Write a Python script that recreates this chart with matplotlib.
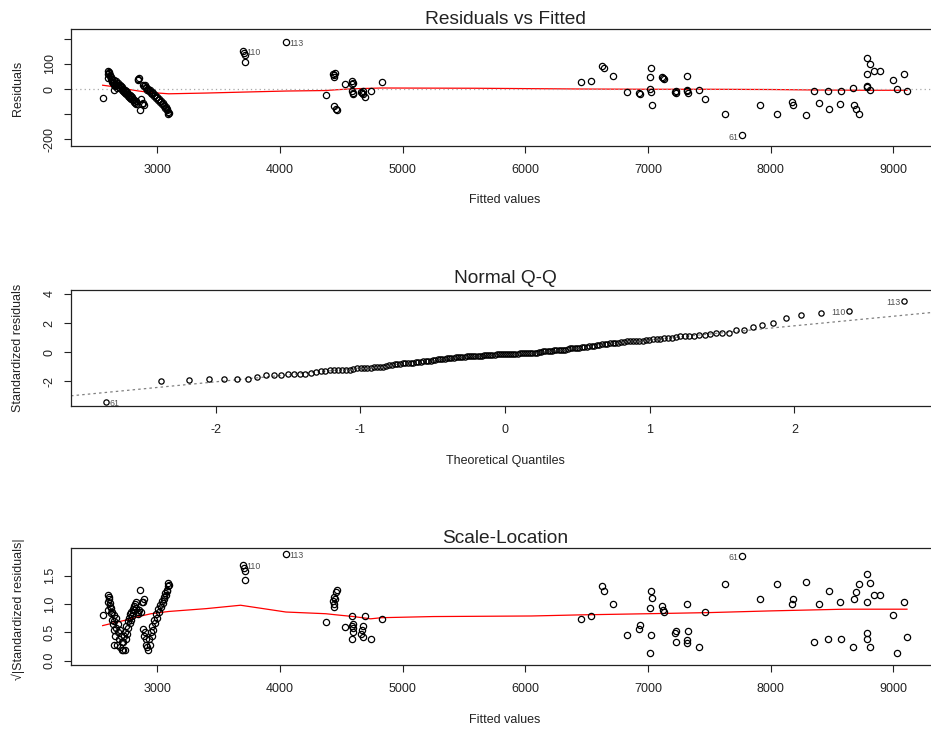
import statistics
import numpy as np
import matplotlib.pyplot as plt

plt.rcParams['font.family'] = ['Liberation Sans', 'DejaVu Sans']
plt.rcParams['axes.unicode_minus'] = False

fitted = [
    2556, 2596, 2598, 2602, 2606, 2610, 2612, 2618, 2622, 2626, 2630, 2634, 2640, 2645,
    2648, 2649, 2652, 2656, 2662, 2668, 2672, 2678,
    2684, 2690, 2695, 2700, 2705, 2710, 2715, 2720, 2725, 2730, 2735, 2740, 2745, 2750,
    2755, 2760, 2765, 2770, 2775, 2780, 2785, 2790, 2795, 2800, 2805, 2810, 2815, 2820,
    2825, 2830,
    2840, 2845, 2850, 2860, 2870, 2880, 2888, 2892,
    2886, 2895, 2900, 2906, 2912, 2918, 2925, 2932, 2940, 2948, 2955, 2962, 2970, 2978,
    2985, 2992, 3000, 3008, 3015, 3022, 3030, 3038, 3045, 3052, 3058, 3065, 3072, 3078,
    3084, 3088, 3092, 3096,
    3700, 3706, 3712, 3720, 4050,
    4375, 4430, 4438, 4445, 4452, 4440, 4455, 4465, 4528, 4585, 4592, 4600, 4588, 4595,
    4598, 4660, 4668, 4675, 4680, 4690, 4740, 4830,
    6456, 6538, 6627, 6638, 6717, 6829, 6924, 6935, 7020, 7019, 7025, 7028, 7036, 7114,
    7122, 7128, 7224, 7232, 7230, 7319, 7319, 7327, 7322, 7417, 7461,
    7630, 7763, 7913, 8054, 8172, 8185, 8286, 8354, 8395, 8466, 8476, 8566, 8574, 8675,
    8683, 8697, 8716, 8784, 8811, 8784, 8844, 8893, 8784, 8789, 8806, 8997, 9030, 9089,
    9111,
]
resid = [
    -34, 42, 58, 72, 64, 68, 50, 56, 38, 46, 28, 40, 22, 34,
    16, -4, 26, 10, 30, 18, 4, 14,
    22, 8, 16, 3, 10, -2, 6, -6, 2, -10, -2, -14, -8, -20,
    -12, -26, -18, -30, -24, -36, -28, -40, -33, -44, -38, -50, -42, -54,
    -47, -58,
    40, 36, 42, -84, -40, -58, -57, -64,
    17, 10, 14, 4, 8, -3, 2, -8, -4, -14, -10, -20, -16, -28,
    -24, -36, -30, -44, -40, -52, -48, -60, -56, -68, -64, -76, -72, -84,
    -80, -92, -100, -96,
    152, 144, 135, 108, 188,
    -25, 60, 54, 48, 64, -68, -78, -84, 19, 33, 20, 22, -8, -18,
    -14, -12, -16, -9, -20, -33, -8, 29,
    29, 33, 93, 82, 53, -11, -17, -21, -1, 46, 82, -11, -65, 49,
    42, 40, -13, -15, -6, 53, -7, -15, -5, -3, -40,
    -98, -183, -64, -98, -53, -64, -103, -6, -54, -8, -80, -58, -8, 3,
    -64, -78, -98, 124, 100, 58, 72, 72, 13, 8, -3, 34, -1, 58,
    -9,
]
sigma = 53.3
label_names = ['113', '61', '110']  # largest |standardized residual| first

# red smoother lines
smooth_x = [2556, 2650, 2750, 2850, 2950, 3095, 3400, 3720, 4050, 4375, 4460, 4600,
            4830, 5600, 6456, 7000, 7500, 8000, 8400, 8800, 9111]
smooth_y = [15, 9, 0, -8, -14, -19, -16, -12, -8, -6, -3, 1, 4, 3, 0, -1, -1, -2, -4, -5, -5]
sl_smooth_x = [2556, 2650, 2750, 2850, 2950, 3095, 3400, 3680, 4050, 4375, 4460, 4600,
               4740, 4830, 5250, 6050, 6456, 7000, 7500, 8000, 8600, 9111]
sl_smooth_y = [0.62, 0.67, 0.72, 0.78, 0.83, 0.87, 0.92, 0.98, 0.86, 0.83, 0.81, 0.78,
               0.74, 0.76, 0.78, 0.79, 0.81, 0.83, 0.85, 0.88, 0.91, 0.91]

fitted = np.array(fitted, float)
resid = np.array(resid, float)
std_res = resid / sigma
n = len(std_res)
top3 = np.argsort(-np.abs(std_res))[:3]

# normal quantiles for the Q-Q panel
order = np.argsort(std_res)
theo = np.empty(n)
nd = statistics.NormalDist()
theo[order] = [nd.inv_cdf((i + 0.5) / n) for i in range(n)]
yq = np.quantile(std_res, [0.25, 0.75])
xq = np.array([nd.inv_cdf(0.25), nd.inv_cdf(0.75)])
slope = (yq[1] - yq[0]) / (xq[1] - xq[0])
icpt = yq[0] - slope * xq[0]

W, H = 931, 729
fig = plt.figure(figsize=(W / 100, H / 100), dpi=100)


def box(top, bottom, left=71, right=939):
    return fig.add_axes([left / W, 1 - bottom / H, (right - left) / W, (bottom - top) / H])


def style(ax):
    for s in ax.spines.values():
        s.set_linewidth(0.9)
        s.set_color('#222222')
    ax.tick_params(direction='out', length=5, width=0.8, labelsize=9, pad=8,
                   colors='#222222')
    ax.tick_params(axis='y', labelrotation=90, pad=6)
    for lab in ax.get_yticklabels():
        lab.set_va('center')


def ftext(x, y, s, **kw):
    fig.text(x / W, 1 - y / H, s, color='#222222', **kw)


pt = dict(ls='none', marker='o', mfc='none', mec='black', mew=0.9)
lab_kw = dict(fontsize=6.3, color='#505050', va='center')

# --- Residuals vs Fitted
ax1 = box(29.3, 145.7)
ax1.plot(smooth_x, smooth_y, color='red', lw=0.9)
ax1.axhline(0, color='#a8a8a8', ls=(0, (1, 2.5)), lw=0.9)
ax1.plot(fitted, resid, ms=4.5, **pt)
ax1.set_xlim(2298, 9372)
ax1.set_ylim(-225, 237)
ax1.set_xticks([3000, 4000, 5000, 6000, 7000, 8000, 9000])
ax1.set_yticks([-200, -100, 0, 100, 200])
ax1.set_yticklabels(['-200', '', '0', '100', ''])
style(ax1)
for k, i in enumerate(top3):
    right = fitted[i] < fitted.mean()
    ax1.annotate(label_names[k], (fitted[i], resid[i]), xytext=(2.5 if right else -2.5, -1 if right else -2),
                 textcoords='offset points', ha='left' if right else 'right', **lab_kw)
ftext(505, 24, 'Residuals vs Fitted', fontsize=13.8, ha='center', va='baseline')
ftext(505, 200, 'Fitted values', fontsize=9, ha='center', va='center')
ftext(18, 88, 'Residuals', fontsize=9, ha='center', va='center', rotation=90)

# --- Normal Q-Q
ax2 = box(290, 406)
xx = np.array([-3.0, 3.0])
ax2.plot(xx, icpt + slope * xx, color='#808080', ls=(0, (2, 2.5)), lw=0.9)
ax2.plot(theo, std_res, ms=3.8, **pt)
ax2.set_xlim(-3.0, 3.0)
ax2.set_ylim(-3.68, 4.27)
ax2.set_xticks([-2, -1, 0, 1, 2])
ax2.set_yticks([-2, 0, 2, 4])
style(ax2)
for k, i in enumerate(top3):
    right = theo[i] < 0
    ax2.annotate(label_names[k], (theo[i], std_res[i]), xytext=(2.5 if right else -2.5, -1),
                 textcoords='offset points', ha='left' if right else 'right', **lab_kw)
ftext(505, 283, 'Normal Q-Q', fontsize=13.8, ha='center', va='baseline')
ftext(505, 461, 'Theoretical Quantiles', fontsize=9, ha='center', va='center')
ftext(18, 348, 'Standardized residuals', fontsize=9, ha='center', va='center', rotation=90)

# --- Scale-Location
sl = np.sqrt(np.abs(std_res))
ax3 = box(548.3, 665)
ax3.plot(sl_smooth_x, sl_smooth_y, color='red', lw=0.9)
ax3.plot(fitted, sl, ms=4.5, **pt)
ax3.set_xlim(2298, 9372)
ax3.set_ylim(-0.076, 1.986)
ax3.set_xticks([3000, 4000, 5000, 6000, 7000, 8000, 9000])
ax3.set_yticks([0.0, 0.5, 1.0, 1.5])
ax3.set_yticklabels(['0.0', '0.5', '1.0', '1.5'])
style(ax3)
for k, i in enumerate(top3):
    right = fitted[i] < fitted.mean()
    ax3.annotate(label_names[k], (fitted[i], sl[i]), xytext=(2.5 if right else -2.5, -1),
                 textcoords='offset points', ha='left' if right else 'right', **lab_kw)
ftext(505, 543, 'Scale-Location', fontsize=13.8, ha='center', va='baseline')
ftext(505, 720, 'Fitted values', fontsize=9, ha='center', va='center')
ftext(18, 609, '√|Standardized residuals|', fontsize=9, ha='center', va='center', rotation=90)

fig.savefig('out.png', dpi=100)
